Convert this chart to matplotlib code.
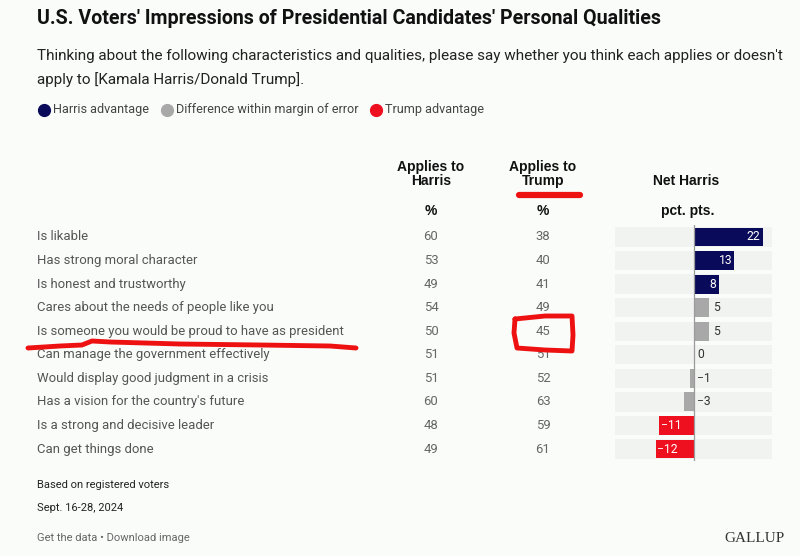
import matplotlib
matplotlib.use("Agg")
import matplotlib.pyplot as plt
from matplotlib.transforms import blended_transform_factory
from matplotlib.lines import Line2D

# Datos
qualities = [
    "Is likable",
    "Has strong moral character",
    "Is honest and trustworthy",
    "Cares about the needs of people like you",
    "Is someone you would be proud to have as president",
    "Can manage the government effectively",
    "Would display good judgment in a crisis",
    "Has a vision for the country's future",
    "Is a strong and decisive leader",
    "Can get things done",
]
applies_harris = [60, 53, 49, 54, 50, 51, 51, 60, 48, 49]
applies_trump = [38, 40, 41, 49, 45, 51, 52, 63, 59, 61]
net_harris = [22, 13, 8, 5, 5, 0, -1, -3, -11, -12]
# 'h' = Harris advantage, 'g' = within margin of error, 't' = Trump advantage
status = ["h", "h", "h", "g", "g", "g", "g", "g", "t", "t"]

NAVY = "#0a0a5a"
GRAY = "#a8a8a8"
RED = "#ee0f1f"
BG = "#fafcfa"
colores = {"h": NAVY, "g": GRAY, "t": RED}

W, H = 800, 556
plt.rcParams['font.family'] = ['Roboto', 'DejaVu Sans']

fig = plt.figure(figsize=(W / 100, H / 100), dpi=100, facecolor=BG)

def fx(px):
    return px / W

def fy(py):
    return 1 - py / H

# Título y subtítulo
fig.text(fx(37), fy(18), "U.S. Voters' Impressions of Presidential Candidates' Personal Qualities",
         fontsize=14.1, fontweight="bold", color="#111111", va="center")
fig.text(fx(37), fy(56), "Thinking about the following characteristics and qualities, please say whether you think each applies or doesn't",
         fontsize=10.95, color="#222222", va="center")
fig.text(fx(37), fy(80), "apply to [Kamala Harris/Donald Trump].",
         fontsize=10.95, color="#222222", va="center")

# Leyenda
ley = [(44, NAVY, "Harris advantage"), (167, GRAY, "Difference within margin of error"),
       (376, RED, "Trump advantage")]
for x, c, txt in ley:
    fig.add_artist(Line2D([fx(x)], [fy(110)], marker="o", markersize=8.5, color=c,
                          transform=fig.transFigure))
    fig.text(fx(x + 9), fy(110), txt, fontsize=9.1, color="#444444", va="center")

# Encabezados de columnas
hdr = dict(fontsize=10, fontweight="bold", color="#111111", ha="center", va="center",
           family=["Liberation Sans", "DejaVu Sans"], linespacing=0.95)
fig.text(fx(431), fy(174), "Applies to\nHarris", **hdr)
fig.text(fx(543), fy(174), "Applies to\nTrump", **hdr)
fig.text(fx(686), fy(181), "Net Harris", **hdr)
fig.text(fx(431), fy(211), "%", **hdr)
fig.text(fx(543), fy(211), "%", **hdr)
fig.text(fx(688), fy(211), "pct. pts.", **hdr)

# Panel de barras
top, bot = 225.2, 460.8
ax = fig.add_axes([fx(615), fy(bot), fx(772) - fx(615), (bot - top) / H])
ax.set_facecolor(BG)
n = len(qualities)
ypos = list(range(n))
ax.barh(ypos, [50] * n, left=-25, height=0.82, color="#f1f3f1", zorder=1)
ax.barh(ypos, net_harris, height=0.8, color=[colores[s] for s in status], zorder=2)
ax.axvline(0, color="#9a9a9a", lw=0.9, zorder=3)
ax.set_xlim(-25, 25)
ax.set_ylim(n - 0.5, -0.5)
ax.axis("off")

for i, (v, s) in enumerate(zip(net_harris, status)):
    lbl = str(v).replace("-", "\u2212")
    if s == "h":
        ax.text(v - 0.7, i, lbl, color="white", ha="right", va="center", fontsize=8.7, zorder=4)
    elif s == "t":
        ax.text(v + 0.5, i, lbl, color="white", ha="left", va="center", fontsize=8.7, zorder=4)
    else:
        ax.text(max(v, 0) + 1.1, i, lbl, color="#333333", ha="left", va="center", fontsize=8.7, zorder=4)

# Etiquetas de filas y columnas de porcentajes
tr = blended_transform_factory(fig.transFigure, ax.transData)
for i in range(n):
    ax.text(fx(37), i, qualities[i], transform=tr, fontsize=9.45, color="#555555",
            va="center", ha="left", clip_on=False)
    ax.text(fx(431), i, str(applies_harris[i]), transform=tr, fontsize=9.45, color="#666666",
            va="center", ha="center", clip_on=False)
    ax.text(fx(543), i, str(applies_trump[i]), transform=tr, fontsize=9.45, color="#666666",
            va="center", ha="center", clip_on=False)

# Pie
fig.text(fx(37), fy(485), "Based on registered voters", fontsize=8, color="#222222", va="center")
fig.text(fx(37), fy(508), "Sept. 16-28, 2024", fontsize=8, color="#222222", va="center")
fig.text(fx(37), fy(538), "Get the data \u2022 Download image", fontsize=8, color="#666666", va="center")
fig.text(fx(785), fy(538), "GALLUP", fontsize=11, color="#333333", va="center", ha="right",
         family=["Liberation Serif", "DejaVu Serif"])

# Marcas rojas a mano
def trazo(pts, lw):
    xs = [fx(p[0]) for p in pts]
    ys = [fy(p[1]) for p in pts]
    fig.add_artist(Line2D(xs, ys, color="#ee1111", lw=lw, solid_capstyle="round",
                          solid_joinstyle="round", transform=fig.transFigure, zorder=10))

trazo([(519, 195), (580, 195)], 4.5)
trazo([(28, 348), (60, 346), (82, 345), (92, 341), (110, 342), (180, 344),
       (260, 345), (330, 346), (356, 348)], 3.5)
trazo([(515, 319), (545, 316), (572, 316), (573, 335), (572, 351), (545, 350),
       (517, 348), (514, 333), (515, 319)], 3.5)

fig.savefig("out.png", dpi=100, facecolor=BG)
